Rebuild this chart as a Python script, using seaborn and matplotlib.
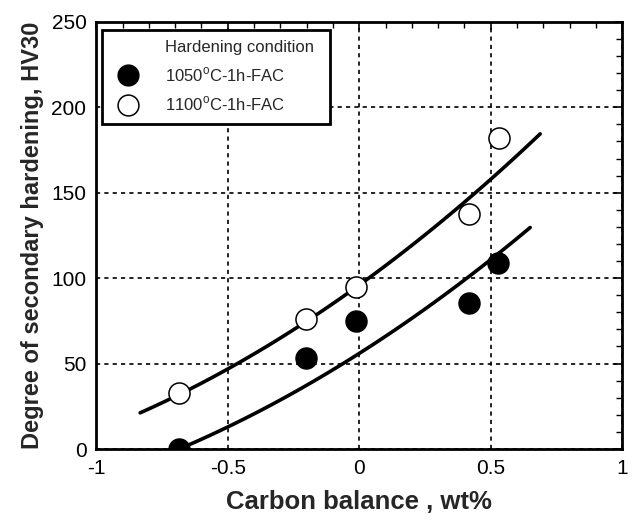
import matplotlib
matplotlib.use("Agg")
import matplotlib.pyplot as plt
import seaborn as sns
import pandas as pd
from matplotlib.ticker import MultipleLocator, FuncFormatter
from matplotlib.lines import Line2D

# Measured data
x_1050 = [-0.684, -0.203, -0.011, 0.418, 0.527]
y_1050 = [0.0, 53.2, 75.0, 85.6, 108.6]
x_1100 = [-0.684, -0.203, -0.011, 0.418, 0.530]
y_1100 = [32.6, 75.8, 94.9, 137.4, 182.0]

# Trend curves
curve_1050_x = [-0.684, -0.50, -0.237, 0.0, 0.18, 0.50, 0.65]
curve_1050_y = [0.0, 13.8, 31.6, 57.5, 75.4, 109.0, 130.5]
curve_1100_x = [-0.833, -0.684, -0.505, -0.237, 0.0, 0.435, 0.498, 0.688]
curve_1100_y = [20.5, 32.6, 47.2, 70.6, 95.0, 150.5, 157.3, 184.0]

labels = ["1050$^{\\mathrm{o}}$C-1h-FAC", "1100$^{\\mathrm{o}}$C-1h-FAC"]
legend_title = "Hardening condition"
x_label = "Carbon balance , wt%"
y_label = "Degree of secondary hardening, HV30"

sns.set_style("white")
plt.rcParams["font.family"] = ["Liberation Sans", "DejaVu Sans"]
plt.rcParams["mathtext.fontset"] = "custom"
plt.rcParams["mathtext.rm"] = "Liberation Sans"

fig = plt.figure(figsize=(6.33, 5.2), dpi=100)
ax = fig.add_axes([0.152, 0.1365, 0.831, 0.8215])

# curves
for cx, cy in [(curve_1050_x, curve_1050_y), (curve_1100_x, curve_1100_y)]:
    sns.regplot(x=cx, y=cy, order=2, scatter=False, ci=None, truncate=True,
                ax=ax, line_kws=dict(color="black", lw=2.6, solid_capstyle="round"))

df = pd.DataFrame({
    "x": x_1050 + x_1100,
    "y": y_1050 + y_1100,
    "cond": [labels[0]] * len(x_1050) + [labels[1]] * len(x_1100),
})
sns.scatterplot(data=df[df.cond == labels[0]], x="x", y="y", ax=ax, s=230,
                color="black", edgecolor="black", linewidth=1, zorder=5, legend=False)
sns.scatterplot(data=df[df.cond == labels[1]], x="x", y="y", ax=ax, s=230,
                color="white", edgecolor="black", linewidth=1.1, zorder=5, legend=False)

ax.set_xlim(-1, 1)
ax.set_ylim(0, 250)
ax.xaxis.set_major_locator(MultipleLocator(0.5))
ax.xaxis.set_minor_locator(MultipleLocator(0.1))
ax.yaxis.set_major_locator(MultipleLocator(50))
ax.yaxis.set_minor_locator(MultipleLocator(10))
ax.xaxis.set_major_formatter(FuncFormatter(lambda v, p: "0" if abs(v) < 1e-9 else "%g" % v))
ax.tick_params(which="both", direction="in", top=True, right=True, colors="black",
               labelsize=15)
ax.tick_params(which="major", length=6, width=1.2, pad=7)
ax.tick_params(which="minor", length=4, width=1)
ax.grid(True, which="major", color="black", linestyle=(0, (2.5, 2.5)), lw=1.2)
ax.set_axisbelow(True)
for s in ax.spines.values():
    s.set_color("black")
    s.set_linewidth(2)

ax.set_xlabel(x_label, fontsize=18.5, fontweight="bold", labelpad=9)
ax.set_ylabel(y_label, fontsize=17, fontweight="bold", labelpad=5)

handles = [
    Line2D([], [], linestyle="none", marker=None),
    Line2D([], [], linestyle="none", marker="o", markersize=15, markerfacecolor="black",
           markeredgecolor="black", markeredgewidth=1),
    Line2D([], [], linestyle="none", marker="o", markersize=15, markerfacecolor="white",
           markeredgecolor="black", markeredgewidth=1.1),
]
leg = ax.legend(handles, [legend_title] + labels, loc="upper left",
                bbox_to_anchor=(0.0114, 0.5, 0.4335, 0.482), mode="expand",
                frameon=True, fancybox=False, fontsize=12,
                borderpad=0.6, labelspacing=0.65, handletextpad=1.2, handlelength=1.95,
                borderaxespad=0)
leg.get_frame().set_edgecolor("black")
leg.get_frame().set_linewidth(2)
leg.get_frame().set_alpha(1)

fig.savefig("out.png", dpi=100)
